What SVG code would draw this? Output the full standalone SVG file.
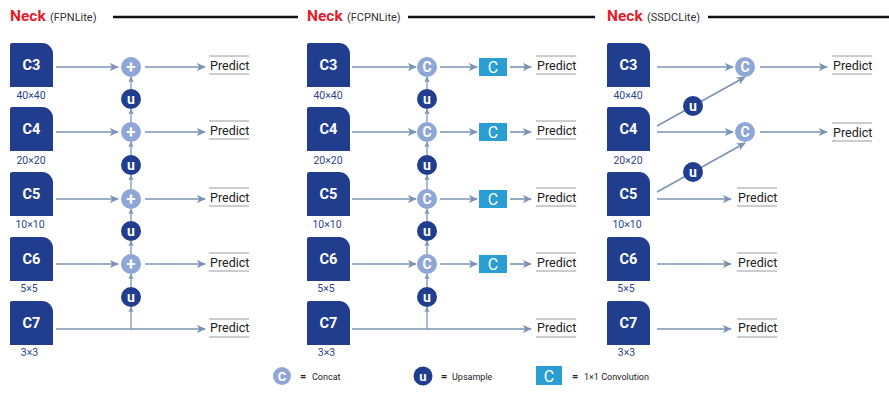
<svg xmlns="http://www.w3.org/2000/svg" xmlns:xlink="http://www.w3.org/1999/xlink" width="889" height="393" viewBox="0 0 889 393">
<style>
text{font-family:Roboto,"Liberation Sans",sans-serif}
.neck{font-size:15.5px;font-weight:bold;fill:#e31b2d}
.sub{font-size:11px;fill:#333}
.tl{stroke:#111;stroke-width:2.6}
.blk{fill:#213e8e}
.bl{font-size:14.5px;font-weight:bold;fill:#fff;text-anchor:middle}
.dim{font-size:10.5px;fill:#2b4590;text-anchor:middle}
.pr{font-size:12.5px;fill:#222}
.pl{stroke:#9a9a9a;stroke-width:1}
.cat{fill:#8fa7d6}
.up{fill:#213e8e}
.cv{fill:#2a9dd2}
.sym{font-size:14px;font-weight:bold;fill:#fff;text-anchor:middle}
.plus{font-size:17px;font-weight:bold;fill:#fff;text-anchor:middle}
.a{fill:none;stroke:#7b94b5;stroke-width:1.6;marker-end:url(#ah)}
.v{fill:none;stroke:#7b94b5;stroke-width:1.3;marker-end:url(#as)}
.lg{font-size:9px;fill:#222}
.eq{font-size:11px;font-weight:bold;fill:#222}
</style>
<defs>
<marker id="ah" viewBox="0 0 10 10" refX="9" refY="5" markerWidth="9" markerHeight="9" markerUnits="userSpaceOnUse" orient="auto"><path d="M0,0.5 L10,5 L0,9.5 L2.5,5 Z" fill="#7b94b5"/></marker>
<marker id="as" viewBox="0 0 10 10" refX="9" refY="5" markerWidth="6" markerHeight="6" markerUnits="userSpaceOnUse" orient="auto"><path d="M0,0.5 L10,5 L0,9.5 L2.5,5 Z" fill="#7b94b5"/></marker>
<path id="box" d="M2,0 H32 A11,11 0 0 1 43,11 V44 H0 V2 A2,2 0 0 1 2,0 Z"/>
</defs>

<!-- titles -->
<g id="title-fpn"><text class="neck" x="10" y="21">Neck</text><text class="sub" x="50" y="21">(FPNLite)</text><line class="tl" x1="113" y1="17" x2="298" y2="17"/></g>
<g id="title-fcpn"><text class="neck" x="307" y="21">Neck</text><text class="sub" x="347" y="21">(FCPNLite)</text><line class="tl" x1="408" y1="17" x2="595" y2="17"/></g>
<g id="title-ssdc"><text class="neck" x="607" y="21">Neck</text><text class="sub" x="647" y="21">(SSDCLite)</text><line class="tl" x1="708" y1="17" x2="889" y2="17"/></g>

<!-- connectors -->
<g id="connectors">
<!-- panel 1 -->
<path class="a" d="M56,67 H118"/><path class="a" d="M56,132 H118"/><path class="a" d="M56,199 H118"/><path class="a" d="M56,264 H118"/>
<path class="a" d="M145,67 H205"/><path class="a" d="M145,132 H205"/><path class="a" d="M145,199 H205"/><path class="a" d="M145,264 H205"/>
<path class="a" d="M56,329 H205"/>
<path class="v" d="M131,89 V77"/><path class="v" d="M131,122 V109"/><path class="v" d="M131,155 V142"/><path class="v" d="M131,189 V175"/>
<path class="v" d="M131,221 V209"/><path class="v" d="M131,254 V241"/><path class="v" d="M131,287 V274"/><path class="v" d="M131,329 V307"/>
<!-- panel 2 -->
<path class="a" d="M352,67 H416"/><path class="a" d="M352,132 H416"/><path class="a" d="M352,199 H416"/><path class="a" d="M352,264 H416"/>
<path class="a" d="M440,67 H477"/><path class="a" d="M440,132 H477"/><path class="a" d="M440,199 H477"/><path class="a" d="M440,264 H477"/>
<path class="a" d="M510,67 H531"/><path class="a" d="M510,132 H531"/><path class="a" d="M510,199 H531"/><path class="a" d="M510,264 H531"/>
<path class="a" d="M352,329 H531"/>
<path class="v" d="M427,89 V77"/><path class="v" d="M427,122 V109"/><path class="v" d="M427,155 V142"/><path class="v" d="M427,189 V175"/>
<path class="v" d="M427,221 V209"/><path class="v" d="M427,254 V241"/><path class="v" d="M427,287 V274"/><path class="v" d="M427,329 V307"/>
<!-- panel 3 -->
<path class="a" d="M657,67 H733"/><path class="a" d="M657,132 H733"/>
<path class="a" d="M760,67 H827"/><path class="a" d="M760,132 H827"/>
<path class="a" d="M657,199 H731"/><path class="a" d="M657,264 H731"/><path class="a" d="M657,329 H731"/>
<path class="a" d="M657,126 L745,77"/>
<path class="a" d="M657,192 L745,143"/>
</g>

<!-- panel 1 nodes -->
<g id="fpn-c3"><use xlink:href="#box" class="blk" x="10" y="43"/><text class="bl" x="31.5" y="70">C3</text><text class="dim" x="31" y="99">40×40</text></g>
<g id="fpn-c4"><use xlink:href="#box" class="blk" x="10" y="107"/><text class="bl" x="31.5" y="134">C4</text><text class="dim" x="31" y="164">20×20</text></g>
<g id="fpn-c5"><use xlink:href="#box" class="blk" x="10" y="172"/><text class="bl" x="31.5" y="199">C5</text><text class="dim" x="30" y="228">10×10</text></g>
<g id="fpn-c6"><use xlink:href="#box" class="blk" x="10" y="237"/><text class="bl" x="31.5" y="264">C6</text><text class="dim" x="29" y="292">5×5</text></g>
<g id="fpn-c7"><use xlink:href="#box" class="blk" x="10" y="301"/><text class="bl" x="31.5" y="328">C7</text><text class="dim" x="29.5" y="356">3×3</text></g>
<g id="fpn-add1"><circle class="cat" cx="131" cy="67" r="10"/><text class="plus" x="131" y="73">+</text></g>
<g id="fpn-add2"><circle class="cat" cx="131" cy="132" r="10"/><text class="plus" x="131" y="138">+</text></g>
<g id="fpn-add3"><circle class="cat" cx="131" cy="199" r="10"/><text class="plus" x="131" y="205">+</text></g>
<g id="fpn-add4"><circle class="cat" cx="131" cy="264" r="10"/><text class="plus" x="131" y="270">+</text></g>
<g id="fpn-up1"><circle class="up" cx="131" cy="99" r="10"/><text class="sym" x="131" y="104">u</text></g>
<g id="fpn-up2"><circle class="up" cx="131" cy="165" r="10"/><text class="sym" x="131" y="170">u</text></g>
<g id="fpn-up3"><circle class="up" cx="131" cy="231" r="10"/><text class="sym" x="131" y="236">u</text></g>
<g id="fpn-up4"><circle class="up" cx="131" cy="297" r="10"/><text class="sym" x="131" y="302">u</text></g>
<g id="fpn-p1"><line class="pl" x1="209" y1="56" x2="249" y2="56"/><text class="pr" x="210" y="69.5">Predict</text><line class="pl" x1="209" y1="74" x2="249" y2="74"/></g>
<g id="fpn-p2"><line class="pl" x1="209" y1="121" x2="249" y2="121"/><text class="pr" x="210" y="134.5">Predict</text><line class="pl" x1="209" y1="139" x2="249" y2="139"/></g>
<g id="fpn-p3"><line class="pl" x1="209" y1="188" x2="249" y2="188"/><text class="pr" x="210" y="201.5">Predict</text><line class="pl" x1="209" y1="206" x2="249" y2="206"/></g>
<g id="fpn-p4"><line class="pl" x1="209" y1="253" x2="249" y2="253"/><text class="pr" x="210" y="266.5">Predict</text><line class="pl" x1="209" y1="271" x2="249" y2="271"/></g>
<g id="fpn-p5"><line class="pl" x1="209" y1="319" x2="249" y2="319"/><text class="pr" x="210" y="332">Predict</text><line class="pl" x1="209" y1="337" x2="249" y2="337"/></g>

<!-- panel 2 nodes -->
<g id="fcpn-c3"><use xlink:href="#box" class="blk" x="307" y="43"/><text class="bl" x="328.5" y="70">C3</text><text class="dim" x="328" y="99">40×40</text></g>
<g id="fcpn-c4"><use xlink:href="#box" class="blk" x="307" y="107"/><text class="bl" x="328.5" y="134">C4</text><text class="dim" x="328" y="164">20×20</text></g>
<g id="fcpn-c5"><use xlink:href="#box" class="blk" x="307" y="172"/><text class="bl" x="328.5" y="199">C5</text><text class="dim" x="327" y="228">10×10</text></g>
<g id="fcpn-c6"><use xlink:href="#box" class="blk" x="307" y="237"/><text class="bl" x="328.5" y="264">C6</text><text class="dim" x="326" y="292">5×5</text></g>
<g id="fcpn-c7"><use xlink:href="#box" class="blk" x="307" y="301"/><text class="bl" x="328.5" y="328">C7</text><text class="dim" x="326.5" y="356">3×3</text></g>
<g id="fcpn-cat1"><circle class="cat" cx="427" cy="67" r="10"/><text class="sym" x="427" y="72">C</text></g>
<g id="fcpn-cat2"><circle class="cat" cx="427" cy="132" r="10"/><text class="sym" x="427" y="137">C</text></g>
<g id="fcpn-cat3"><circle class="cat" cx="427" cy="199" r="10"/><text class="sym" x="427" y="204">C</text></g>
<g id="fcpn-cat4"><circle class="cat" cx="427" cy="264" r="10"/><text class="sym" x="427" y="269">C</text></g>
<g id="fcpn-up1"><circle class="up" cx="427" cy="99" r="10"/><text class="sym" x="427" y="104">u</text></g>
<g id="fcpn-up2"><circle class="up" cx="427" cy="165" r="10"/><text class="sym" x="427" y="170">u</text></g>
<g id="fcpn-up3"><circle class="up" cx="427" cy="231" r="10"/><text class="sym" x="427" y="236">u</text></g>
<g id="fcpn-up4"><circle class="up" cx="427" cy="297" r="10"/><text class="sym" x="427" y="302">u</text></g>
<g id="fcpn-conv1"><rect class="cv" x="479" y="58" width="28" height="18"/><text class="sym" x="493" y="72.5" style="font-size:16px;font-weight:normal">C</text></g>
<g id="fcpn-conv2"><rect class="cv" x="479" y="123" width="28" height="18"/><text class="sym" x="493" y="137.5" style="font-size:16px;font-weight:normal">C</text></g>
<g id="fcpn-conv3"><rect class="cv" x="479" y="190" width="28" height="18"/><text class="sym" x="493" y="204.5" style="font-size:16px;font-weight:normal">C</text></g>
<g id="fcpn-conv4"><rect class="cv" x="479" y="255" width="28" height="18"/><text class="sym" x="493" y="269.5" style="font-size:16px;font-weight:normal">C</text></g>
<g id="fcpn-p1"><line class="pl" x1="536" y1="56" x2="576" y2="56"/><text class="pr" x="537" y="69.5">Predict</text><line class="pl" x1="536" y1="74" x2="576" y2="74"/></g>
<g id="fcpn-p2"><line class="pl" x1="536" y1="121" x2="576" y2="121"/><text class="pr" x="537" y="134.5">Predict</text><line class="pl" x1="536" y1="139" x2="576" y2="139"/></g>
<g id="fcpn-p3"><line class="pl" x1="536" y1="188" x2="576" y2="188"/><text class="pr" x="537" y="201.5">Predict</text><line class="pl" x1="536" y1="206" x2="576" y2="206"/></g>
<g id="fcpn-p4"><line class="pl" x1="536" y1="253" x2="576" y2="253"/><text class="pr" x="537" y="266.5">Predict</text><line class="pl" x1="536" y1="271" x2="576" y2="271"/></g>
<g id="fcpn-p5"><line class="pl" x1="536" y1="319" x2="576" y2="319"/><text class="pr" x="537" y="332">Predict</text><line class="pl" x1="536" y1="337" x2="576" y2="337"/></g>

<!-- panel 3 nodes -->
<g id="ssdc-c3"><use xlink:href="#box" class="blk" x="607" y="43"/><text class="bl" x="628.5" y="70">C3</text><text class="dim" x="628" y="99">40×40</text></g>
<g id="ssdc-c4"><use xlink:href="#box" class="blk" x="607" y="107"/><text class="bl" x="628.5" y="134">C4</text><text class="dim" x="628" y="164">20×20</text></g>
<g id="ssdc-c5"><use xlink:href="#box" class="blk" x="607" y="172"/><text class="bl" x="628.5" y="199">C5</text><text class="dim" x="627" y="228">10×10</text></g>
<g id="ssdc-c6"><use xlink:href="#box" class="blk" x="607" y="237"/><text class="bl" x="628.5" y="264">C6</text><text class="dim" x="626" y="292">5×5</text></g>
<g id="ssdc-c7"><use xlink:href="#box" class="blk" x="607" y="301"/><text class="bl" x="628.5" y="328">C7</text><text class="dim" x="626.5" y="356">3×3</text></g>
<g id="ssdc-up1"><circle class="up" cx="693" cy="106" r="10"/><text class="sym" x="693" y="111">u</text></g>
<g id="ssdc-up2"><circle class="up" cx="693" cy="172" r="10"/><text class="sym" x="693" y="177">u</text></g>
<g id="ssdc-cat1"><circle class="cat" cx="745" cy="67" r="10"/><text class="sym" x="745" y="72">C</text></g>
<g id="ssdc-cat2"><circle class="cat" cx="745" cy="132" r="10"/><text class="sym" x="745" y="137">C</text></g>
<g id="ssdc-p1"><line class="pl" x1="832" y1="56" x2="872" y2="56"/><text class="pr" x="833" y="69.5">Predict</text><line class="pl" x1="832" y1="74" x2="872" y2="74"/></g>
<g id="ssdc-p2"><line class="pl" x1="832" y1="123" x2="872" y2="123"/><text class="pr" x="833" y="136.5">Predict</text><line class="pl" x1="832" y1="141" x2="872" y2="141"/></g>
<g id="ssdc-p3"><line class="pl" x1="737" y1="188" x2="777" y2="188"/><text class="pr" x="738" y="201.5">Predict</text><line class="pl" x1="737" y1="206" x2="777" y2="206"/></g>
<g id="ssdc-p4"><line class="pl" x1="737" y1="253" x2="777" y2="253"/><text class="pr" x="738" y="266.5">Predict</text><line class="pl" x1="737" y1="271" x2="777" y2="271"/></g>
<g id="ssdc-p5"><line class="pl" x1="737" y1="319" x2="777" y2="319"/><text class="pr" x="738" y="332">Predict</text><line class="pl" x1="737" y1="337" x2="777" y2="337"/></g>

<!-- legend -->
<g id="legend-concat"><circle class="cat" cx="282" cy="376" r="9"/><text class="sym" x="282" y="381" style="font-size:13px">C</text><text class="eq" x="300" y="380">=</text><text class="lg" x="312" y="379.5">Concat</text></g>
<g id="legend-upsample"><circle class="up" cx="423" cy="376" r="9.5"/><text class="sym" x="423" y="380.5" style="font-size:13px">u</text><text class="eq" x="441" y="380">=</text><text class="lg" x="452" y="379.5">Upsample</text></g>
<g id="legend-conv"><rect class="cv" x="536" y="366" width="26" height="19"/><text class="sym" x="549" y="381.5" style="font-size:16px;font-weight:normal">C</text><text class="eq" x="572" y="380">=</text><text class="lg" x="584" y="379.5">1×1 Convolution</text></g>
</svg>
